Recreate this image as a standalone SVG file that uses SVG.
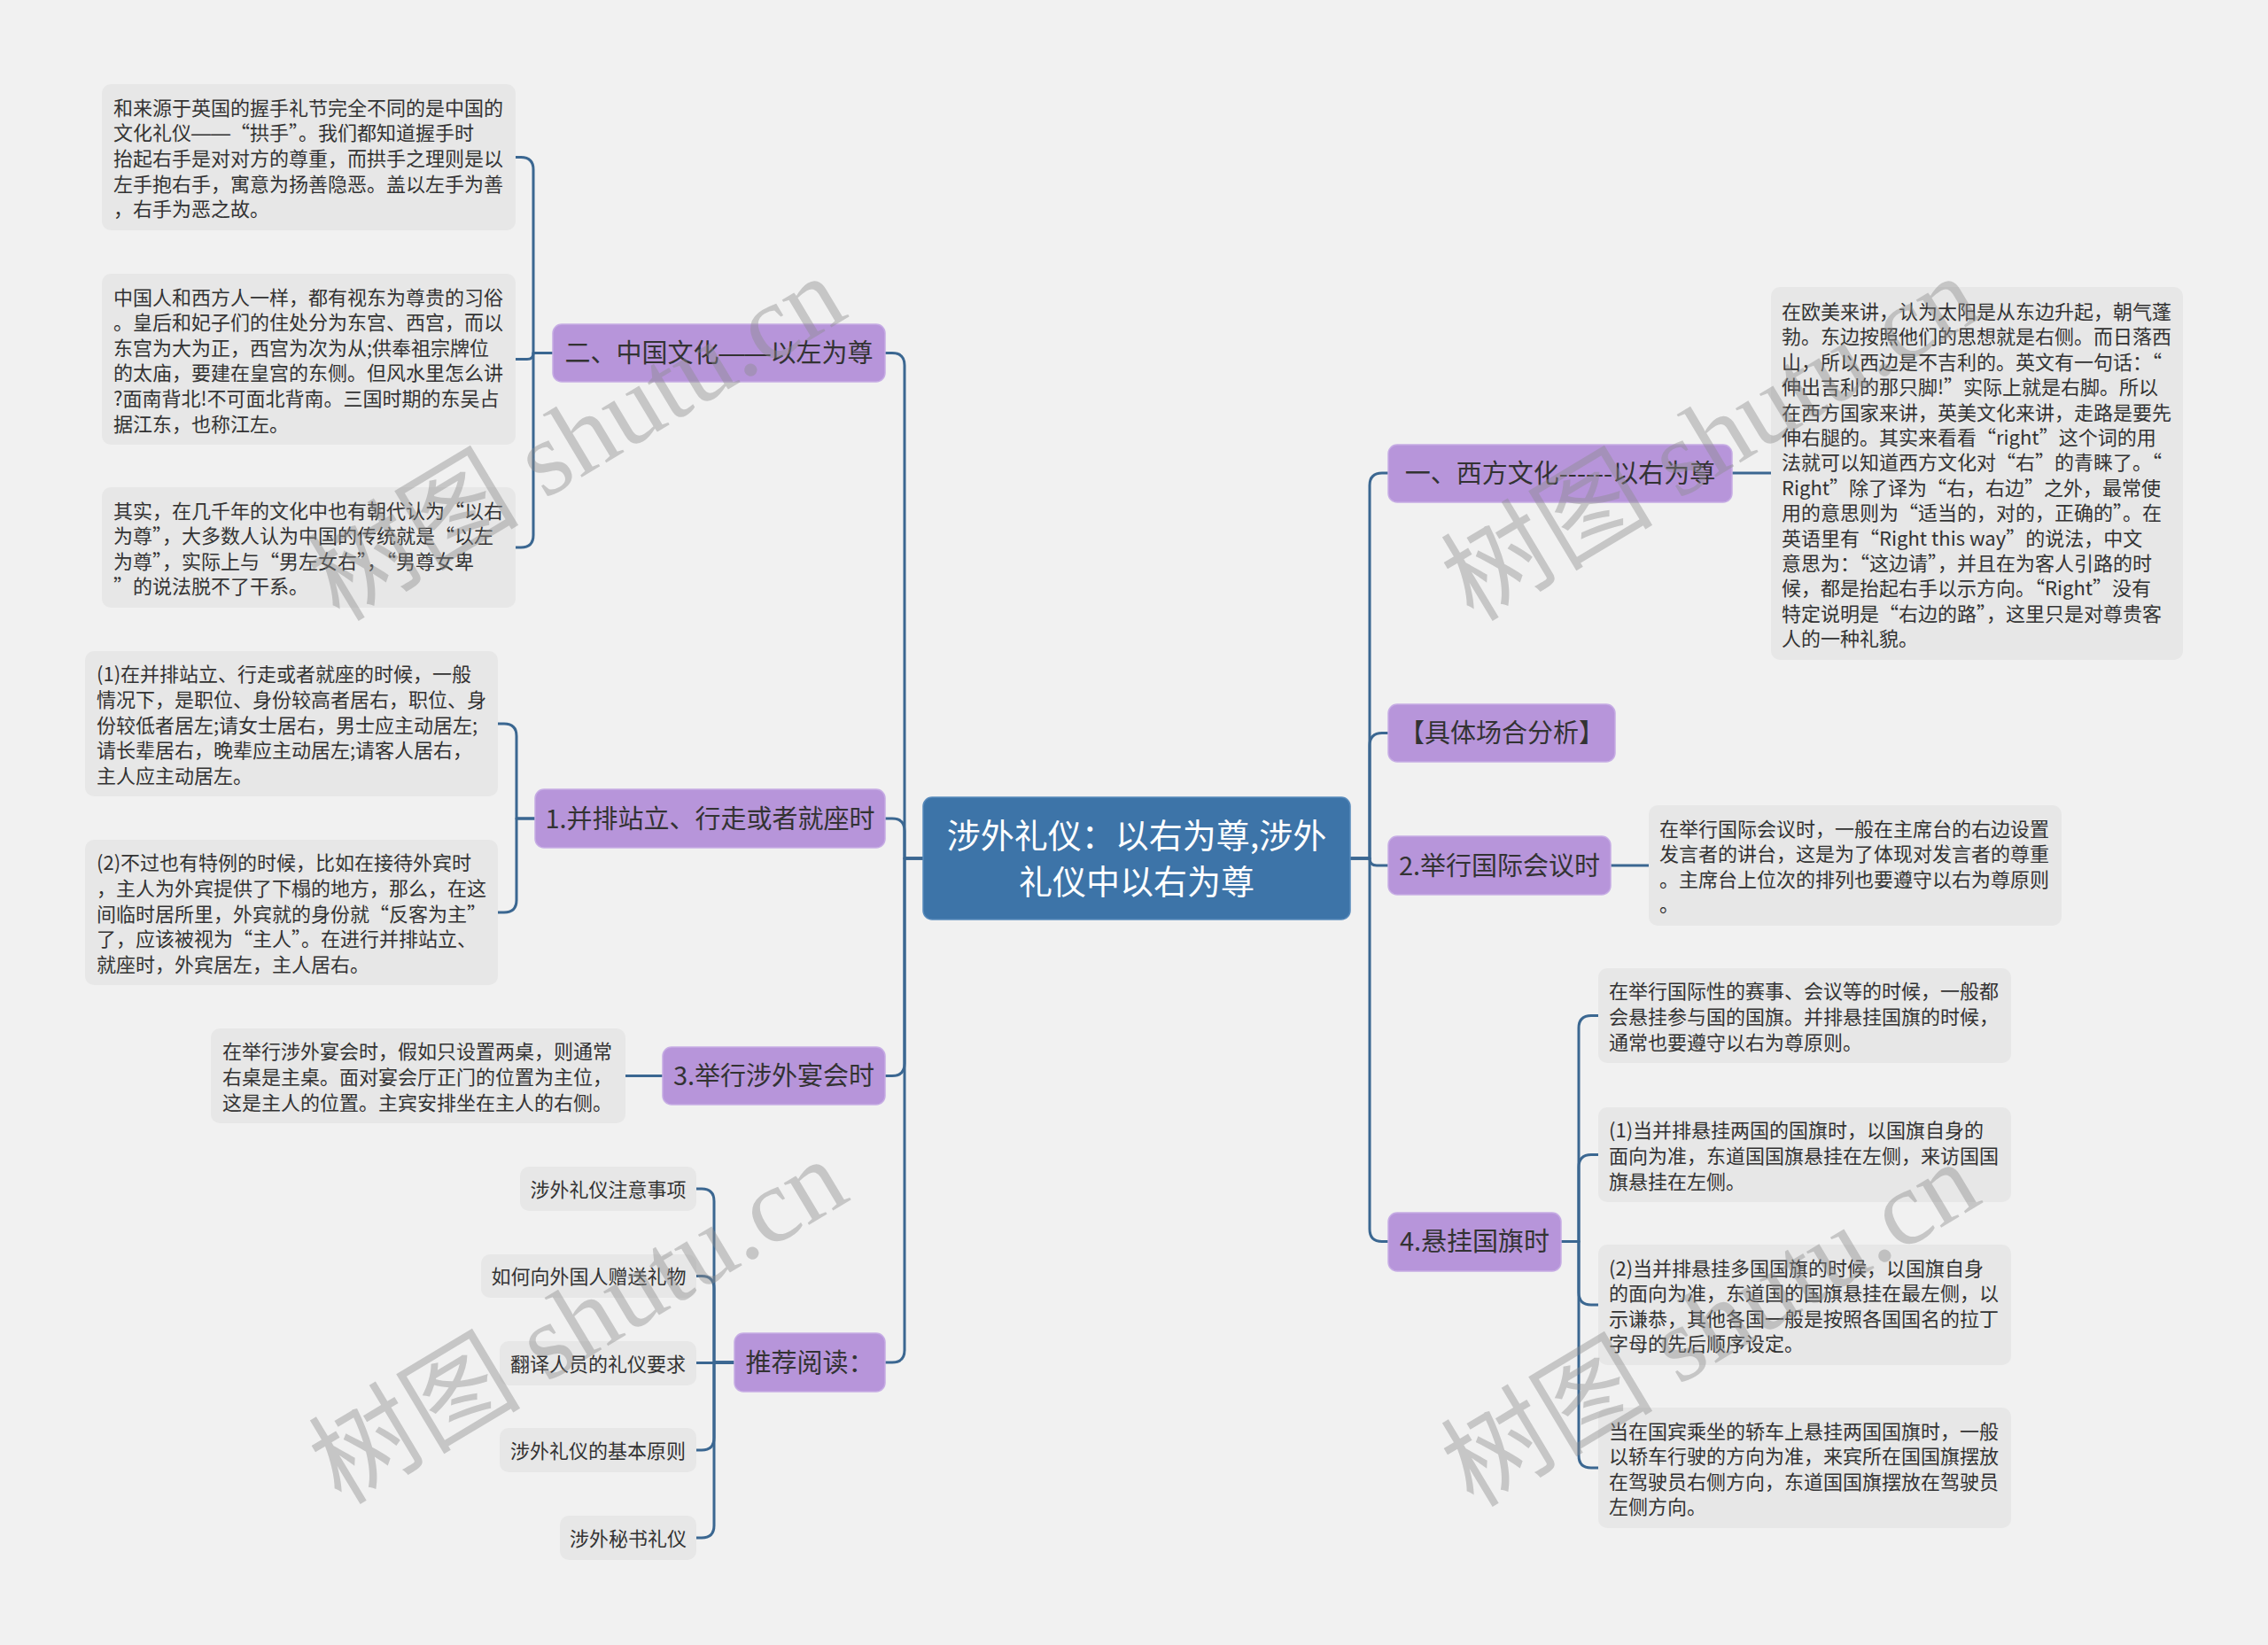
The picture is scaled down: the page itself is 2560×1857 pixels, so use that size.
<svg xmlns="http://www.w3.org/2000/svg" width="2560" height="1857" viewBox="0 0 2560 1857">
<style>
.ln{fill:none;stroke:#3b6791;stroke-width:3;stroke-linecap:round;stroke-linejoin:round}
.root{fill:#3d74a8;stroke:#5689bb;stroke-width:1.5}
.main{fill:#b795da;stroke:#c6ace4;stroke-width:1.5}
.leaf{fill:#e7e7e7}
text{font-family:"Noto Sans CJK SC","Liberation Sans",sans-serif}
.dash{font-family:"Liberation Sans","Noto Sans CJK SC",sans-serif}
.tr{font-size:38px;fill:#ffffff;text-anchor:middle}
.tm{font-size:29px;fill:#333333;text-anchor:middle}
.tl{font-size:22px;fill:#333333}
.tc{font-size:22px;fill:#333333;text-anchor:middle}
.wm{font-family:"Liberation Serif","Noto Sans CJK SC",serif;font-size:120px;fill:#8c8c8c;opacity:0.42}
</style>
<rect x="0" y="0" width="2560" height="1857" fill="#f1f1f1"/>
<g id="connectors">
<path class="ln" d="M1042,969 H1021 V412.5 Q1021,398.5 1007,398.5 H999"/>
<path class="ln" d="M1042,969 H1021 V938 Q1021,924 1007,924 H999"/>
<path class="ln" d="M1042,969 H1021 V1200.5 Q1021,1214.5 1007,1214.5 H999"/>
<path class="ln" d="M1042,969 H1021 V1524 Q1021,1538 1007,1538 H999"/>
<path class="ln" d="M1525,969 H1546 V548 Q1546,534 1560,534 H1567"/>
<path class="ln" d="M1525,969 H1546 V841.5 Q1546,827.5 1560,827.5 H1567"/>
<path class="ln" d="M1525,969 H1546 Q1546,977 1554,977 H1567"/>
<path class="ln" d="M1525,969 H1546 V1387.5 Q1546,1401.5 1560,1401.5 H1567"/>
<path class="ln" d="M624,398.5 H602 V191.5 Q602,177.5 588,177.5 H582"/>
<path class="ln" d="M624,398.5 H602 Q602,405.5 595,405.5 H582"/>
<path class="ln" d="M624,398.5 H602 V604 Q602,618 588,618 H582"/>
<path class="ln" d="M604,924 H583 V831 Q583,817 569,817 H562"/>
<path class="ln" d="M604,924 H583 V1016 Q583,1030 569,1030 H562"/>
<path class="ln" d="M748,1214.5 H706"/>
<path class="ln" d="M829,1538 H806 V1356 Q806,1342 792,1342 H786"/>
<path class="ln" d="M829,1538 H806 V1454.5 Q806,1440.5 792,1440.5 H786"/>
<path class="ln" d="M829,1538.5 H786"/>
<path class="ln" d="M829,1538 H806 V1623 Q806,1637 792,1637 H786"/>
<path class="ln" d="M829,1538 H806 V1722 Q806,1736 792,1736 H786"/>
<path class="ln" d="M1955,534 H1999"/>
<path class="ln" d="M1818,977 H1861"/>
<path class="ln" d="M1762,1401.5 H1782 V1160.5 Q1782,1146.5 1796,1146.5 H1804"/>
<path class="ln" d="M1762,1401.5 H1782 V1317.5 Q1782,1303.5 1796,1303.5 H1804"/>
<path class="ln" d="M1762,1401.5 H1782 V1459 Q1782,1473 1796,1473 H1804"/>
<path class="ln" d="M1762,1401.5 H1782 V1643 Q1782,1657 1796,1657 H1804"/>
</g>
<g id="root">
<rect class="root" x="1042" y="900" width="482" height="138" rx="10"/>
<text class="tr" x="1283" y="957">涉外礼仪：以右为尊,涉外</text>
<text class="tr" x="1283" y="1009">礼仪中以右为尊</text>
</g>
<g id="n-china">
<rect class="main" x="624" y="366" width="375" height="65" rx="10"/>
<text class="tm" x="811.5" y="409">二、中国文化<tspan class="dash">——</tspan>以左为尊</text>
</g>
<g id="n-side">
<rect class="main" x="604" y="891" width="395" height="66" rx="10"/>
<text class="tm" x="801.5" y="934.5">1.并排站立、行走或者就座时</text>
</g>
<g id="n-banquet">
<rect class="main" x="748" y="1182" width="251" height="65" rx="10"/>
<text class="tm" x="873.5" y="1225">3.举行涉外宴会时</text>
</g>
<g id="n-read">
<rect class="main" x="829" y="1505" width="170" height="66" rx="10"/>
<text class="tm" x="914" y="1548.5">推荐阅读：</text>
</g>
<g id="n-west">
<rect class="main" x="1567" y="502" width="388" height="65" rx="10"/>
<text class="tm" x="1761" y="545">一、西方文化------以右为尊</text>
</g>
<g id="n-case">
<rect class="main" x="1567" y="795" width="256" height="65" rx="10"/>
<text class="tm" x="1695" y="838">【具体场合分析】</text>
</g>
<g id="n-meeting">
<rect class="main" x="1567" y="944" width="251" height="66" rx="10"/>
<text class="tm" x="1692.5" y="987.5">2.举行国际会议时</text>
</g>
<g id="n-flag">
<rect class="main" x="1567" y="1369" width="195" height="66" rx="10"/>
<text class="tm" x="1664.5" y="1412">4.悬挂国旗时</text>
</g>
<g id="leaf-a">
<rect class="leaf" x="115" y="95" width="467" height="165" rx="10"/>
<text class="tl" x="128" y="129.8"><tspan x="128">和来源于英国的握手礼节完全不同的是中国的</tspan><tspan x="128" dy="28.6">文化礼仪<tspan class="dash">——</tspan>“拱手”。我们都知道握手时</tspan><tspan x="128" dy="28.6">抬起右手是对对方的尊重，而拱手之理则是以</tspan><tspan x="128" dy="28.6">左手抱右手，寓意为扬善隐恶。盖以左手为善</tspan><tspan x="128" dy="28.6">，右手为恶之故。</tspan></text>
</g>
<g id="leaf-b">
<rect class="leaf" x="115" y="309" width="467" height="193" rx="10"/>
<text class="tl" x="128" y="343.5"><tspan x="128">中国人和西方人一样，都有视东为尊贵的习俗</tspan><tspan x="128" dy="28.6">。皇后和妃子们的住处分为东宫、西宫，而以</tspan><tspan x="128" dy="28.6">东宫为大为正，西宫为次为从;供奉祖宗牌位</tspan><tspan x="128" dy="28.6">的太庙，要建在皇宫的东侧。但风水里怎么讲</tspan><tspan x="128" dy="28.6">?面南背北!不可面北背南。三国时期的东吴占</tspan><tspan x="128" dy="28.6">据江东，也称江左。</tspan></text>
</g>
<g id="leaf-c">
<rect class="leaf" x="115" y="550" width="467" height="136" rx="10"/>
<text class="tl" x="128" y="584.6"><tspan x="128">其实，在几千年的文化中也有朝代认为“以右</tspan><tspan x="128" dy="28.6">为尊”，大多数人认为中国的传统就是“以左</tspan><tspan x="128" dy="28.6">为尊”，实际上与“男左女右”，“男尊女卑</tspan><tspan x="128" dy="28.6">”的说法脱不了干系。</tspan></text>
</g>
<g id="leaf-d">
<rect class="leaf" x="96" y="735" width="466" height="164" rx="10"/>
<text class="tl" x="109" y="769.3"><tspan x="109">(1)在并排站立、行走或者就座的时候，一般</tspan><tspan x="109" dy="28.6">情况下，是职位、身份较高者居右，职位、身</tspan><tspan x="109" dy="28.6">份较低者居左;请女士居右，男士应主动居左;</tspan><tspan x="109" dy="28.6">请长辈居右，晚辈应主动居左;请客人居右，</tspan><tspan x="109" dy="28.6">主人应主动居左。</tspan></text>
</g>
<g id="leaf-e">
<rect class="leaf" x="96" y="948" width="466" height="164" rx="10"/>
<text class="tl" x="109" y="982.3"><tspan x="109">(2)不过也有特例的时候，比如在接待外宾时</tspan><tspan x="109" dy="28.6">，主人为外宾提供了下榻的地方，那么，在这</tspan><tspan x="109" dy="28.6">间临时居所里，外宾就的身份就“反客为主”</tspan><tspan x="109" dy="28.6">了，应该被视为“主人”。在进行并排站立、</tspan><tspan x="109" dy="28.6">就座时，外宾居左，主人居右。</tspan></text>
</g>
<g id="leaf-f">
<rect class="leaf" x="238" y="1161" width="468" height="107" rx="10"/>
<text class="tl" x="251" y="1195.4"><tspan x="251">在举行涉外宴会时，假如只设置两桌，则通常</tspan><tspan x="251" dy="28.6">右桌是主桌。面对宴会厅正门的位置为主位，</tspan><tspan x="251" dy="28.6">这是主人的位置。主宾安排坐在主人的右侧。</tspan></text>
</g>
<g id="read-1">
<rect class="leaf" x="587" y="1317" width="199" height="50" rx="10"/>
<text class="tc" x="686.5" y="1350.5">涉外礼仪注意事项</text>
</g>
<g id="read-2">
<rect class="leaf" x="543" y="1416" width="243" height="49" rx="10"/>
<text class="tc" x="664.5" y="1449">如何向外国人赠送礼物</text>
</g>
<g id="read-3">
<rect class="leaf" x="564" y="1514" width="222" height="50" rx="10"/>
<text class="tc" x="675" y="1547.5">翻译人员的礼仪要求</text>
</g>
<g id="read-4">
<rect class="leaf" x="564" y="1612" width="222" height="50" rx="10"/>
<text class="tc" x="675" y="1645.5">涉外礼仪的基本原则</text>
</g>
<g id="read-5">
<rect class="leaf" x="632" y="1711" width="154" height="50" rx="10"/>
<text class="tc" x="709" y="1744.5">涉外秘书礼仪</text>
</g>
<g id="leaf-g">
<rect class="leaf" x="1999" y="324" width="465" height="421" rx="10"/>
<text class="tl" x="2011" y="360"><tspan x="2011">在欧美来讲，认为太阳是从东边升起，朝气蓬</tspan><tspan x="2011" dy="28.4">勃。东边按照他们的思想就是右侧。而日落西</tspan><tspan x="2011" dy="28.4">山，所以西边是不吉利的。英文有一句话：“</tspan><tspan x="2011" dy="28.4">伸出吉利的那只脚!”实际上就是右脚。所以</tspan><tspan x="2011" dy="28.4">在西方国家来讲，英美文化来讲，走路是要先</tspan><tspan x="2011" dy="28.4">伸右腿的。其实来看看“right”这个词的用</tspan><tspan x="2011" dy="28.4">法就可以知道西方文化对“右”的青睐了。“</tspan><tspan x="2011" dy="28.4">Right”除了译为“右，右边”之外，最常使</tspan><tspan x="2011" dy="28.4">用的意思则为“适当的，对的，正确的”。在</tspan><tspan x="2011" dy="28.4">英语里有“Right this way”的说法，中文</tspan><tspan x="2011" dy="28.4">意思为：“这边请”，并且在为客人引路的时</tspan><tspan x="2011" dy="28.4">候，都是抬起右手以示方向。“Right”没有</tspan><tspan x="2011" dy="28.4">特定说明是“右边的路”，这里只是对尊贵客</tspan><tspan x="2011" dy="28.4">人的一种礼貌。</tspan></text>
</g>
<g id="leaf-h">
<rect class="leaf" x="1861" y="909" width="466" height="136" rx="10"/>
<text class="tl" x="1873" y="943.6"><tspan x="1873">在举行国际会议时，一般在主席台的右边设置</tspan><tspan x="1873" dy="28.6">发言者的讲台，这是为了体现对发言者的尊重</tspan><tspan x="1873" dy="28.6">。主席台上位次的排列也要遵守以右为尊原则</tspan><tspan x="1873" dy="28.6">。</tspan></text>
</g>
<g id="leaf-i">
<rect class="leaf" x="1804" y="1093" width="466" height="107" rx="10"/>
<text class="tl" x="1816" y="1127.4"><tspan x="1816">在举行国际性的赛事、会议等的时候，一般都</tspan><tspan x="1816" dy="28.6">会悬挂参与国的国旗。并排悬挂国旗的时候，</tspan><tspan x="1816" dy="28.6">通常也要遵守以右为尊原则。</tspan></text>
</g>
<g id="leaf-j">
<rect class="leaf" x="1804" y="1250" width="466" height="107" rx="10"/>
<text class="tl" x="1816" y="1284.4"><tspan x="1816">(1)当并排悬挂两国的国旗时，以国旗自身的</tspan><tspan x="1816" dy="28.6">面向为准，东道国国旗悬挂在左侧，来访国国</tspan><tspan x="1816" dy="28.6">旗悬挂在左侧。</tspan></text>
</g>
<g id="leaf-k">
<rect class="leaf" x="1804" y="1405" width="466" height="136" rx="10"/>
<text class="tl" x="1816" y="1439.6"><tspan x="1816">(2)当并排悬挂多国国旗的时候，以国旗自身</tspan><tspan x="1816" dy="28.6">的面向为准，东道国的国旗悬挂在最左侧，以</tspan><tspan x="1816" dy="28.6">示谦恭，其他各国一般是按照各国国名的拉丁</tspan><tspan x="1816" dy="28.6">字母的先后顺序设定。</tspan></text>
</g>
<g id="leaf-l">
<rect class="leaf" x="1804" y="1589" width="466" height="136" rx="10"/>
<text class="tl" x="1816" y="1623.6"><tspan x="1816">当在国宾乘坐的轿车上悬挂两国国旗时，一般</tspan><tspan x="1816" dy="28.6">以轿车行驶的方向为准，来宾所在国国旗摆放</tspan><tspan x="1816" dy="28.6">在驾驶员右侧方向，东道国国旗摆放在驾驶员</tspan><tspan x="1816" dy="28.6">左侧方向。</tspan></text>
</g>
<g id="watermarks">
<text class="wm" transform="translate(383,703) rotate(-31)">树图 shutu.cn</text>
<text class="wm" transform="translate(1663,703) rotate(-31)">树图 shutu.cn</text>
<text class="wm" transform="translate(385,1700) rotate(-31)">树图 shutu.cn</text>
<text class="wm" transform="translate(1663,1703) rotate(-31)">树图 shutu.cn</text>
</g>
</svg>
